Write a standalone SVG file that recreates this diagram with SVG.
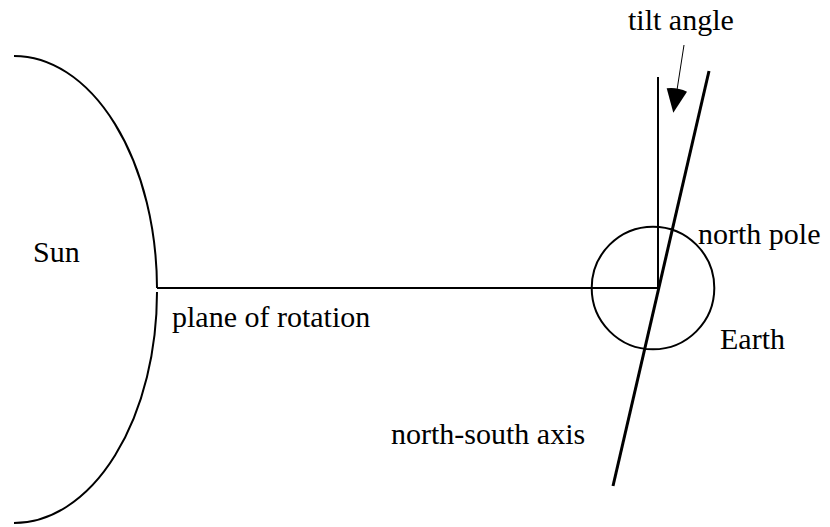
<svg xmlns="http://www.w3.org/2000/svg" width="830" height="527" viewBox="0 0 830 527">
<style>
.t{font-family:"Liberation Serif","Times New Roman",serif;font-size:30px;fill:#000}
.s{fill:none;stroke:#000;stroke-width:2}
</style>
<rect width="830" height="527" fill="#fff"/>
<g id="sun">
<path class="s" d="M14,56 A143,233 0 0 1 157,288"/>
<path class="s" d="M157,292 A143,231 0 0 1 14,523"/>
<text class="t" x="33" y="262">Sun</text>
</g>
<g id="earth">
<circle class="s" cx="653" cy="288" r="61.3"/>
<text class="t" x="720" y="349">Earth</text>
</g>
<g id="connectors">
<line class="s" x1="157" y1="288" x2="658" y2="288"/>
<line class="s" x1="658" y1="77" x2="658" y2="288"/>
<line x1="709" y1="71" x2="613" y2="486" stroke="#000" stroke-width="3"/>
<line x1="684" y1="45" x2="677" y2="90" stroke="#000" stroke-width="1"/>
<path d="M666.7,88.3 Q677,87 687,91.7 L673.3,112.7 Z" fill="#000"/>
</g>
<g id="labels">
<text class="t" x="628" y="30">tilt angle</text>
<text class="t" x="698" y="244">north pole</text>
<text class="t" x="172" y="327">plane of rotation</text>
<text class="t" x="391" y="444">north-south axis</text>
</g>
</svg>
